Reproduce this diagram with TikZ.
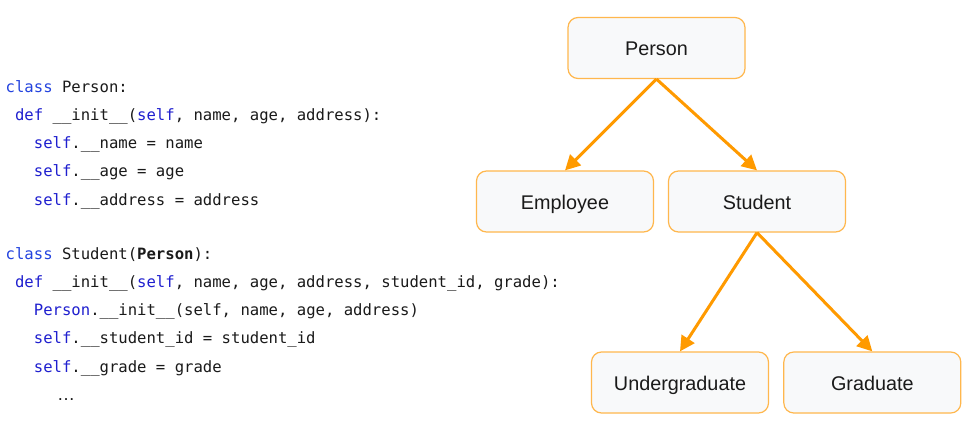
\documentclass[tikz,border=0pt]{standalone}
\usepackage{fontspec}
\setmainfont{Liberation Sans}
\setmonofont{DejaVu Sans Mono}
\usetikzlibrary{arrows.meta}
\definecolor{kwA}{HTML}{2343DF}
\definecolor{kwB}{HTML}{1F1FCF}
\definecolor{codetxt}{HTML}{1A1A1A}
\definecolor{boxfill}{HTML}{F8F9FA}
\definecolor{boxline}{HTML}{FFB74D}
\definecolor{arrcol}{HTML}{FF9A00}
\newcommand{\kwc}[1]{\textcolor{kwA}{#1}}
\newcommand{\kwd}[1]{\textcolor{kwB}{#1}}
\begin{document}
\begin{tikzpicture}[x=1pt,y=-1pt,
  classbox/.style={draw=boxline, line width=1.2pt, fill=boxfill, rounded corners=10pt,
    minimum width=177pt, minimum height=61pt, inner sep=0pt,
    text height=16pt, text depth=0pt,
    font=\fontsize{19.8}{22}\selectfont, text=codetxt},
  arr/.style={draw=arrcol, line width=3pt, -{Triangle[length=15pt,width=15pt]}},
  codeline/.style={anchor=base west, inner sep=0pt, text=codetxt,
    font=\ttfamily\fontsize{15.6}{18}\selectfont}]
\useasboundingbox (0,0) rectangle (976,444);
\fill[white] (0,0) rectangle (976,444);

% code
\node[codeline] (c1) at (5.5,92.3) {\kwc{class} Person:};
\node[codeline] (c2) at (14.9,120.5) {\kwd{def} \_\_init\_\_(\kwd{self}, name, age, address):};
\node[codeline] (c3) at (33.7,148.7) {\kwd{self}.\_\_name = name};
\node[codeline] (c4) at (33.7,176.9) {\kwd{self}.\_\_age = age};
\node[codeline] (c5) at (33.7,205.1) {\kwd{self}.\_\_address = address};
\node[codeline] (c6) at (5.5,259.3) {\kwc{class} Student(\textbf{Person}):};
\node[codeline] (c7) at (14.9,287.4) {\kwd{def} \_\_init\_\_(\kwd{self}, name, age, address, student\_id, grade):};
\node[codeline] (c8) at (33.7,315.6) {\kwd{Person}.\_\_init\_\_(self, name, age, address)};
\node[codeline] (c9) at (33.7,343.8) {\kwd{self}.\_\_student\_id = student\_id};
\node[codeline] (c10) at (33.7,372.0) {\kwd{self}.\_\_grade = grade};
\node[codeline, font=\rmfamily\fontsize{18}{20}\selectfont] (c11) at (57,400.3) {…};

% hierarchy
\node[classbox] (person) at (656.5,48) {Person};
\node[classbox] (employee) at (565,201.5) {Employee};
\node[classbox] (student) at (757,201.5) {Student};
\node[classbox] (under) at (680,382.5) {Undergraduate};
\node[classbox] (grad) at (872.3,382.5) {Graduate};

\draw[arr] (person.south) -- (employee.north);
\draw[arr] (person.south) -- (student.north);
\draw[arr] (student.south) -- (under.north);
\draw[arr] (student.south) -- (grad.north);
\end{tikzpicture}
\end{document}
